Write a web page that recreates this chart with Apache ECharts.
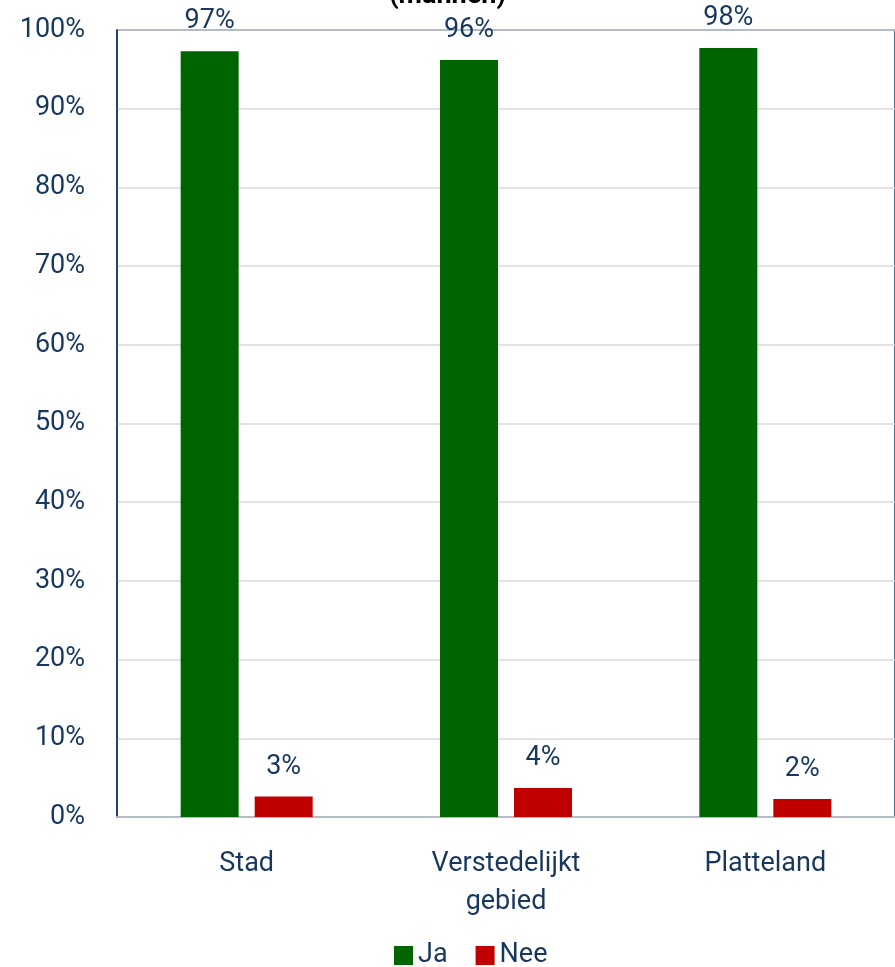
<!DOCTYPE html>
<html style="height: 100%">
   <head>
       <meta charset="utf-8">
   </head>
   <body style="height: 100%; margin: 0">
    <div id="container" style="height: 100%"></div>
       <script type="text/javascript" src="https://cdn.jsdelivr.net/npm/echarts@6/dist/echarts.min.js"></script>
<script type="text/javascript">
var categories = ['Stad', 'Verstedelijkt\ngebied', 'Platteland'];
var jaValues = [97.3, 96.2, 97.7];
var neeValues = [2.6, 3.7, 2.3];
var yTicks = [0, 10, 20, 30, 40, 50, 60, 70, 80, 90, 100];

var textColor = '#17375e';
var dom = document.getElementById("container");
var myChart = echarts.init(dom);

var labelStyle = {
    show: true,
    position: 'top',
    distance: 16,
    fontFamily: 'Roboto',
    fontSize: 27,
    color: textColor,
    formatter: function (p) { return Math.round(p.value) + '%'; }
};

var option = {
    title: {
        text: '(mannen)',
        left: 'center',
        top: -22,
        textStyle: { fontFamily: 'Roboto', fontWeight: 'bold', fontSize: 27, color: '#000' }
    },
    legend: {
        data: ['Ja', 'Nee'],
        bottom: -7,
        left: 389,
        itemWidth: 19,
        itemHeight: 19,
        itemGap: 28,
        icon: 'rect',
        textStyle: { fontFamily: 'Roboto', fontSize: 27, color: textColor }
    },
    grid: {
        left: 117,
        right: -4,
        top: 30,
        bottom: 150,
        show: true,
        borderColor: '#17375e',
        borderWidth: 1.5
    },
    xAxis: {
        type: 'category',
        data: categories,
        axisLine: { lineStyle: { color: '#b4bcc6', width: 2 } },
        axisTick: { show: false },
        axisLabel: { fontFamily: 'Roboto', fontSize: 27, color: textColor, margin: 28, lineHeight: 38 }
    },
    yAxis: {
        type: 'value',
        min: yTicks[0],
        max: yTicks[yTicks.length - 1],
        interval: 10,
        axisLine: { show: true, lineStyle: { color: '#17375e', width: 1.5 } },
        splitLine: { lineStyle: { color: '#d9d9d9', width: 1.5 } },
        axisLabel: { fontFamily: 'Roboto', fontSize: 27, color: textColor, margin: 32, formatter: '{value}%' }
    },
    series: [
        {
            name: 'Ja',
            type: 'bar',
            data: jaValues,
            barWidth: 58,
            barGap: '27.6%',
            itemStyle: { color: '#006400' },
            label: labelStyle
        },
        {
            name: 'Nee',
            type: 'bar',
            data: neeValues,
            barWidth: 58,
            itemStyle: { color: '#c00000' },
            label: labelStyle
        }
    ]
};

myChart.setOption(option, true);
</script>
   </body>
</html>
